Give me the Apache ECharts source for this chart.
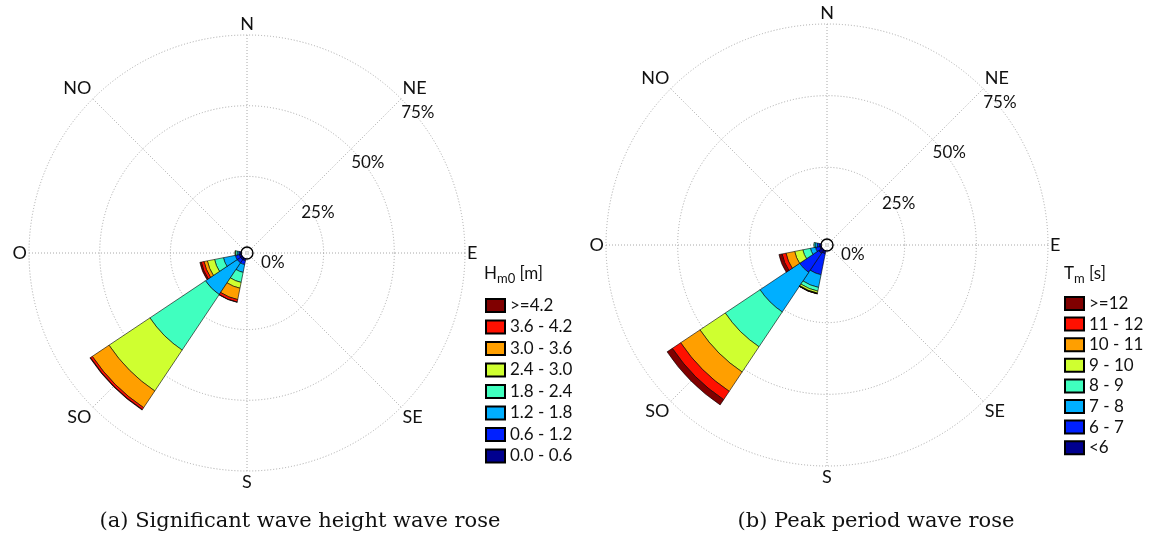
<!DOCTYPE html>
<html><head><meta charset="utf-8">
<script src="https://cdn.jsdelivr.net/npm/echarts@6/dist/echarts.min.js"></script>
<style>html,body{margin:0;padding:0;background:#fff}#c{width:1160px;height:535px}</style>
</head><body><div id="c"></div>
<script>
// 16 sectors, clockwise from North (Spanish: O = Oeste)
const directions = ['N','NNE','NE','ENE','E','ESE','SE','SSE','S','SSO','SO','OSO','O','ONO','NO','NNO'];
const compassLabels = ['N','NE','E','SE','S','SO','O','NO'];
const ringTicks = [0, 25, 50, 75];
const ringMin = -2.1;   // small calm circle offset
const ringMax = 75;

// bins (low -> high)
const hsBins = ['0.0 - 0.6','0.6 - 1.2','1.2 - 1.8','1.8 - 2.4','2.4 - 3.0','3.0 - 3.6','3.6 - 4.2','>=4.2'];
const tmBins = ['<6','6 - 7','7 - 8','8 - 9','9 - 10','10 - 11','11 - 12','>=12'];
const binColors = ['#00008F','#0020FF','#00AFFF','#40FFBF','#CFFF30','#FF9F00','#FF1000','#800000'];

// (a) Significant wave height: frequency (%) per bin, for each non-empty direction
const hsSSO = [0.7, 1.4, 2.8, 3.6, 2.1, 4.1, 0.9, 0.1];
const hsSO  = [0.7, 1.4, 13.5, 23.6, 17.4, 7.1, 0.8, 0.2];
const hsOSO = [0.7, 1.4, 4.3, 3.2, 2.6, 1.2, 1.0, 0.5];
const hsO   = [0.3, 0.5, 0.6, 0.6, 0.2, 0, 0, 0];

// (b) Peak period
const tmSSO = [1.0, 7.5, 4.5, 1.3, 0.7, 0.2, 0.05, 0.05];
const tmSO  = [1.4, 8.0, 16.6, 14.6, 10.6, 8.1, 3.5, 2.2];
const tmOSO = [0.5, 1.5, 1.8, 2.7, 2.9, 3.1, 1.4, 1.1];
const tmO   = [0.5, 0.8, 0.8, 0.4, 0, 0, 0, 0];

const hsByDir = {SSO: hsSSO, SO: hsSO, OSO: hsOSO, O: hsO};
const tmByDir = {SSO: tmSSO, SO: tmSO, OSO: tmOSO, O: tmO};

const FONT = 'Lato';
const gridLine = {color: '#a8a8a8', type: [1, 2], width: 1};
const clear = 'rgba(0,0,0,0)';

function binSeries(bins, byDir, polarIndex, stack) {
  return bins.map((name, b) => ({
    type: 'bar', name, coordinateSystem: 'polar', polarIndex, stack,
    barCategoryGap: '0%',
    itemStyle: {color: binColors[b], borderColor: '#000', borderWidth: 0.6},
    emphasis: {disabled: true},
    data: directions.map(d => (byDir[d] && byDir[d][b]) ? byDir[d][b] : null)
  }));
}

function gridAxes(polarIndex) {
  return {
    angle: {
      polarIndex, type: 'value', min: 0, max: 360, interval: 45,
      startAngle: 45, clockwise: true,
      axisLine: {show: false},
      axisTick: {show: false},
      splitLine: {show: true, lineStyle: gridLine},
      axisLabel: {
        margin: 2, fontFamily: FONT, fontSize: 18, color: '#111',
        formatter: v => v >= 360 ? '' : compassLabels[(v / 45 + 1) % 8]
      }
    },
    radius: {
      polarIndex, type: 'value', min: ringMin, max: ringMax,
      axisLine: {show: false},
      axisTick: {show: false, customValues: ringTicks},
      splitLine: {show: true, lineStyle: gridLine},
      axisLabel: {
        customValues: ringTicks,
        fontFamily: FONT, fontSize: 17, color: '#111', margin: -33,
        lineHeight: 20,
        padding: [0, -10, 0, 10],
        formatter: v => v + '%\n '
      }
    }
  };
}
function barAxes(polarIndex) {
  return {
    angle: {
      polarIndex, type: 'category', data: directions,
      startAngle: 90 + 360 / directions.length / 2, clockwise: true,
      axisLine: {show: false}, axisTick: {show: false}, axisLabel: {show: false},
      splitLine: {show: false}
    },
    radius: {
      polarIndex, type: 'value', min: ringMin, max: ringMax,
      axisLine: {show: false},
      axisTick: {show: false, customValues: ringTicks},
      axisLabel: {show: false, customValues: ringTicks},
      splitLine: {show: true, lineStyle: {
        color: ['#000', clear, clear, clear], width: 1.4, type: 'solid'}}
    }
  };
}

const gA = gridAxes(0), bA = barAxes(1), gB = gridAxes(2), bB = barAxes(3);

const legendCommon = {
  orient: 'vertical', icon: 'rect', itemWidth: 19, itemHeight: 13,
  selectedMode: false,
  textStyle: {fontFamily: FONT, fontSize: 17, color: '#111'}
};
const subRich = {
  m: {fontFamily: FONT, fontSize: 17, color: '#111', fontWeight: 'normal'},
  s: {fontFamily: FONT, fontSize: 13, color: '#111', fontWeight: 'normal', padding: [10, 0, 0, 0]}
};

const option = {
  backgroundColor: '#fff',
  animation: false,
  polar: [
    {center: [247, 253], radius: 218},
    {center: [247, 253], radius: 218},
    {center: [827, 245], radius: 221},
    {center: [827, 245], radius: 221}
  ],
  angleAxis: [gA.angle, bA.angle, gB.angle, bB.angle],
  radiusAxis: [gA.radius, bA.radius, gB.radius, bB.radius],
  legend: [
    Object.assign({data: hsBins.slice().reverse(), left: 480, top: 292, itemGap: 4.5}, legendCommon),
    Object.assign({data: tmBins.slice().reverse(), left: 1059, top: 290, itemGap: 3.6}, legendCommon)
  ],
  title: [
    {text: '{m|H}{s|m0}{m| [m]}', left: 479, top: 257, textStyle: {fontWeight: 'normal', rich: subRich}},
    {text: '{m|T}{s|m}{m| [s]}', left: 1059, top: 257, textStyle: {fontWeight: 'normal', rich: subRich}},
    {text: '(a) Significant wave height wave rose', left: 295, top: 506, textAlign: 'center',
      textStyle: {fontFamily: 'DejaVu Serif', fontSize: 21, fontWeight: 'normal', color: '#111'}},
    {text: '(b) Peak period wave rose', left: 871, top: 506, textAlign: 'center',
      textStyle: {fontFamily: 'DejaVu Serif', fontSize: 21, fontWeight: 'normal', color: '#111'}}
  ],
  series: [].concat(
    binSeries(hsBins, hsByDir, 1, 'hs'),
    binSeries(tmBins, tmByDir, 3, 'tm')
  )
};

const chart = echarts.init(document.getElementById('c'), null, {renderer: 'canvas'});
chart.setOption(option);
</script></body></html>
